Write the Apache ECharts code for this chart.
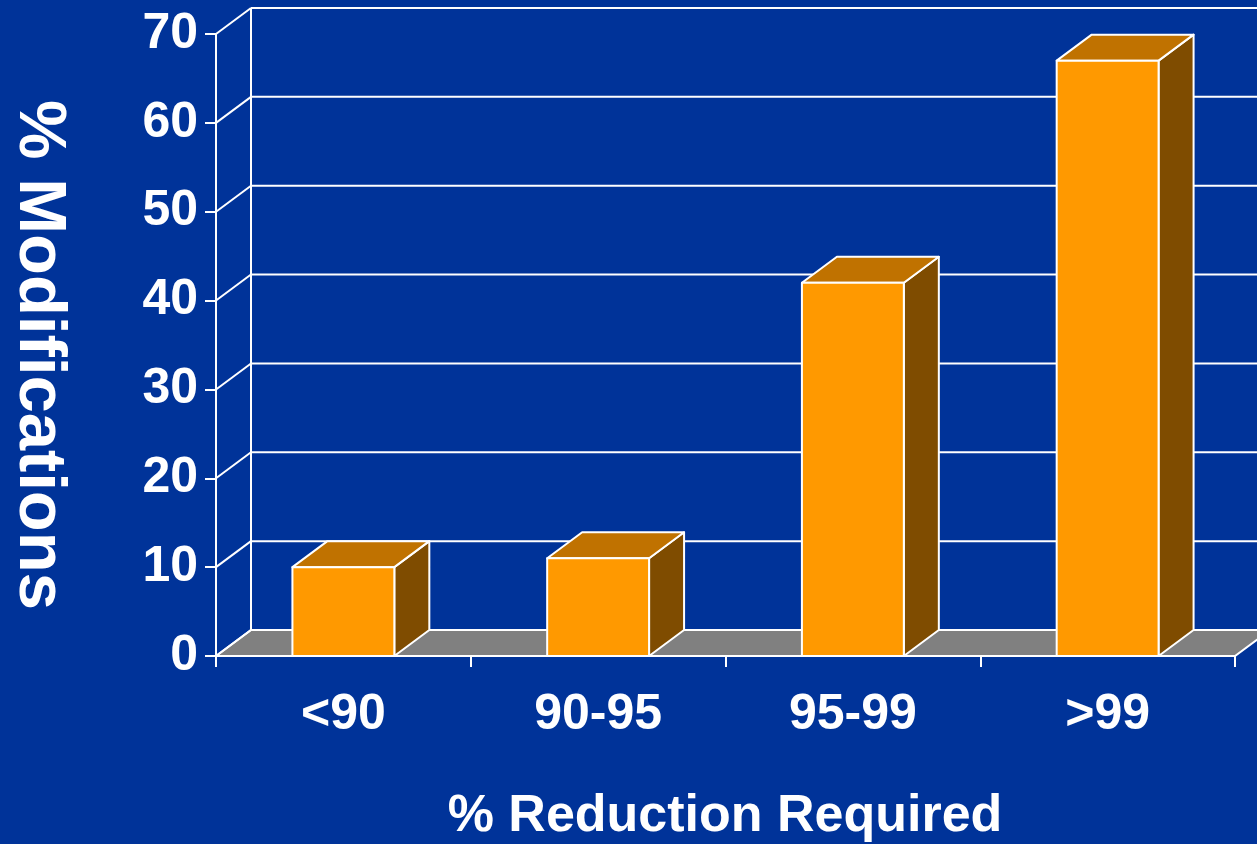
<!DOCTYPE html>
<html>
<head>
<meta charset="utf-8">
<style>
  html, body { margin: 0; padding: 0; background: #003399; }
  #chart { width: 1257px; height: 844px; }
</style>
<script src="https://cdn.jsdelivr.net/npm/echarts@6/dist/echarts.min.js"></script>
</head>
<body>
<div id="chart"></div>
<script>
// Share of modifications by required percentage reduction
const categories = ['<90', '90-95', '95-99', '>99'];
const modifications = [10, 11, 42, 67];
const yTicks = [0, 10, 20, 30, 40, 50, 60, 70];

const xTitle = '% Reduction Required';
const yTitle = '% Modifications';

// depth offset of the pseudo-3D box (back wall relative to the front plane)
const DEPTH_X = 35;
const DEPTH_Y = -26;

const FONT = "'Liberation Sans', Arial, Helvetica, sans-serif";
const WHITE = '#ffffff';

const chart = echarts.init(document.getElementById('chart'), null, { renderer: 'canvas' });

function wallRender(params, api) {
  const cs = params.coordSys;
  const x0 = cs.x, x1 = cs.x + cs.width;
  const yZero = api.coord([0, 0])[1];
  const yTop = api.coord([0, yTicks[yTicks.length - 1]])[1];
  const children = [];
  const lineStyle = { stroke: WHITE, lineWidth: 2 };

  // floor
  children.push({
    type: 'polygon',
    shape: { points: [[x0, yZero], [x1, yZero], [x1 + DEPTH_X, yZero + DEPTH_Y], [x0 + DEPTH_X, yZero + DEPTH_Y]] },
    style: { fill: '#808080', stroke: WHITE, lineWidth: 2 }
  });
  // back wall grid lines and side-wall connectors
  yTicks.forEach(v => {
    const y = api.coord([0, v])[1];
    children.push({
      type: 'line',
      shape: { x1: x0 + DEPTH_X, y1: y + DEPTH_Y, x2: x1 + DEPTH_X, y2: y + DEPTH_Y },
      style: lineStyle
    });
    children.push({
      type: 'line',
      shape: { x1: x0, y1: y, x2: x0 + DEPTH_X, y2: y + DEPTH_Y },
      style: lineStyle
    });
  });
  // back wall left edge
  children.push({
    type: 'line',
    shape: { x1: x0 + DEPTH_X, y1: yTop + DEPTH_Y, x2: x0 + DEPTH_X, y2: yZero + DEPTH_Y },
    style: lineStyle
  });
  return { type: 'group', children };
}

function barRender(params, api) {
  const idx = api.value(0);
  const val = api.value(1);
  const top = api.coord([idx, val]);
  const base = api.coord([idx, 0]);
  const band = api.size([1, 0])[0];
  const w = band * 0.4;
  const xl = top[0] - w / 2, xr = top[0] + w / 2;
  const yt = top[1], yb = base[1];
  const edge = { stroke: WHITE, lineWidth: 2, lineJoin: 'round' };
  return {
    type: 'group',
    children: [
      {
        type: 'polygon',
        shape: { points: [[xr, yt], [xr + DEPTH_X, yt + DEPTH_Y], [xr + DEPTH_X, yb + DEPTH_Y], [xr, yb]] },
        style: Object.assign({ fill: '#7f4c00' }, edge)
      },
      {
        type: 'polygon',
        shape: { points: [[xl, yt], [xl + DEPTH_X, yt + DEPTH_Y], [xr + DEPTH_X, yt + DEPTH_Y], [xr, yt]] },
        style: Object.assign({ fill: '#c07200' }, edge)
      },
      {
        type: 'rect',
        shape: { x: xl, y: yt, width: w, height: yb - yt },
        style: Object.assign({ fill: '#ff9900' }, edge)
      }
    ]
  };
}

const option = {
  backgroundColor: '#003399',
  animation: false,
  grid: { left: 216, right: 22, top: 34, bottom: 188, containLabel: false },
  xAxis: {
    type: 'category',
    data: categories,
    axisLine: { show: true, lineStyle: { color: WHITE, width: 2 } },
    axisTick: { show: true, length: 11, lineStyle: { color: WHITE, width: 2 } },
    axisLabel: { color: WHITE, fontFamily: FONT, fontWeight: 'bold', fontSize: 50, margin: 34 },
    splitLine: { show: false }
  },
  yAxis: {
    type: 'value',
    min: 0, max: 70, interval: 10,
    axisLine: { show: true, lineStyle: { color: WHITE, width: 2 } },
    axisTick: { show: true, length: 11, lineStyle: { color: WHITE, width: 2 } },
    axisLabel: { color: WHITE, fontFamily: FONT, fontWeight: 'bold', fontSize: 50, margin: 18 },
    splitLine: { show: false }
  },
  graphic: [
    {
      type: 'text',
      x: 38, y: 355,
      rotation: -Math.PI / 2,
      style: {
        text: yTitle,
        fill: WHITE,
        font: "bold 67px " + FONT,
        align: 'center',
        verticalAlign: 'middle',
        textShadowColor: 'rgba(0,0,20,0.85)',
        textShadowOffsetX: 3,
        textShadowOffsetY: 3,
        textShadowBlur: 0
      }
    },
    {
      type: 'text',
      x: 725, y: 817,
      style: {
        text: xTitle,
        fill: WHITE,
        font: "bold 52px " + FONT,
        align: 'center',
        verticalAlign: 'middle'
      }
    }
  ],
  series: [
    {
      type: 'custom',
      z: 1,
      silent: true,
      clip: false,
      renderItem: wallRender,
      data: [[0, 0]],
      encode: { x: 0, y: 1 }
    },
    {
      type: 'custom',
      z: 3,
      clip: false,
      renderItem: barRender,
      data: modifications.map((v, i) => [i, v]),
      encode: { x: 0, y: 1 }
    }
  ]
};

chart.setOption(option);
</script>
</body>
</html>
